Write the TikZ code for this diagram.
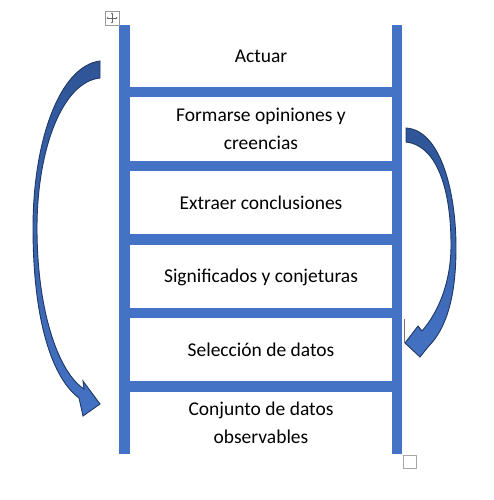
\documentclass[tikz,border=0pt]{standalone}
\usepackage{fontspec}
\setmainfont{Carlito}
\usetikzlibrary{arrows.meta}
\definecolor{barblue}{RGB}{68,114,196}
\definecolor{arrowtop}{RGB}{47,85,151}
\definecolor{arrowbot}{RGB}{68,114,196}
\definecolor{arrowline}{RGB}{31,56,100}
\begin{document}
\begin{tikzpicture}[x=1pt,y=-1pt,
  bar/.style={fill=barblue},
  steptext/.style={font=\fontsize{19.5}{28}\selectfont, align=center, text=black, inner sep=0pt},
  bigarrow/.style={draw=arrowline, line width=0.9pt, top color=arrowtop, bottom color=arrowbot, line join=miter},
  handle/.style={draw=black!60, line width=0.5pt}]
\useasboundingbox (0,0) rectangle (494,500);
% ladder
\fill[bar] (119,25) rectangle (130,454);
\fill[bar] (392,25) rectangle (402,454);
\fill[bar] (130,87) rectangle (392,97);
\fill[bar] (130,161) rectangle (392,171);
\fill[bar] (130,234) rectangle (392,245);
\fill[bar] (130,308) rectangle (392,318);
\fill[bar] (130,381) rectangle (392,392);
% texts
\node[steptext] (actuar) at (261,56) {Actuar};
\node[steptext] (opin) at (261,129) {Formarse opiniones y\\creencias};
\node[steptext] (concl) at (261,203) {Extraer conclusiones};
\node[steptext] (signif) at (261,277) {Significados y conjeturas};
\node[steptext] (selec) at (261,350) {Selección de datos};
\node[steptext] (conj) at (261,423) {Conjunto de datos\\observables};
% left curved arrow
\path[bigarrow] (100,61) .. controls (60,66) and (33,140) .. (33,228)
  .. controls (33,320) and (52,378) .. (79,398) -- (83,416) -- (100,404) -- (83,381) -- (84,389)
  .. controls (58,372) and (37,310) .. (37,228)
  .. controls (37,150) and (62,82) .. (100,78) -- cycle;
% right curved arrow
\path[bigarrow] (406,128) .. controls (440,130) and (456,190) .. (456,248)
  .. controls (456,300) and (445,330) .. (428,347) -- (420,357) -- (405,343) -- (418,326) -- (422,331)
  .. controls (440,310) and (451,280) .. (451,245)
  .. controls (451,185) and (435,145) .. (406,142) -- cycle;
% editor marks
\draw[draw=black!40, line width=0.6pt] (105,11) rectangle (119,25);
\coordinate (hc) at (112,18);
\draw[handle, -{Stealth[length=1.8pt,width=2.2pt]}] (hc) -- ++(0,-5.5);
\draw[handle, -{Stealth[length=1.8pt,width=2.2pt]}] (hc) -- ++(0,5.5);
\draw[handle, -{Stealth[length=1.8pt,width=2.2pt]}] (hc) -- ++(-5.5,0);
\draw[handle, -{Stealth[length=1.8pt,width=2.2pt]}] (hc) -- ++(5.5,0);
\draw[draw=black!35, line width=1pt] (403,455) rectangle (416,468);
\draw[draw=black!55, line width=0.8pt] (404,319) -- (404,343);
\end{tikzpicture}
\end{document}
